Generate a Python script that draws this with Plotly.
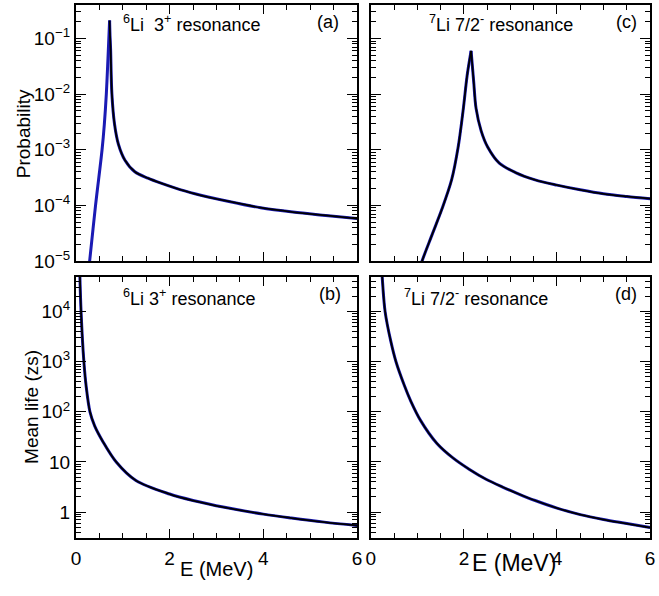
import plotly.graph_objects as go

W, H = 659, 596

# ---------------- data ----------------
# (a) 6Li 3+ resonance : probability vs E (MeV)
E_a = [0.26, 0.293, 0.419, 0.558, 0.607, 0.649, 0.677, 0.700, 0.719, 0.728, 0.740, 0.768,
       0.824, 0.907, 1.047, 1.257, 1.536, 1.815, 2.094, 2.54, 3.24, 3.94, 4.63, 5.33, 6.0]
P_a = [6.0e-6, 1.0e-5, 1.0e-4, 1.0e-3, 2.9e-3, 1.0e-2, 3.2e-2, 8.9e-2, 2.1e-1, 1.12e-1, 6.5e-2, 1.0e-2,
       2.9e-3, 1.26e-3, 6.5e-4, 4.03e-4, 3.09e-4, 2.51e-4, 2.09e-4, 1.62e-4, 1.19e-4, 9.1e-5, 7.6e-5, 6.6e-5, 5.8e-5]

# (c) 7Li 7/2- resonance : probability vs E (MeV)
E_c = [1.05, 1.10, 1.31, 1.525, 1.736, 1.876, 1.98, 2.07, 2.154, 2.21, 2.26, 2.37, 2.51,
       2.76, 3.11, 3.53, 4.0, 4.5, 5.0, 5.5, 6.0]
P_c = [7.1e-6, 1.0e-5, 2.9e-5, 8.5e-5, 2.9e-4, 1.12e-3, 4.9e-3, 2.19e-2, 6.0e-2, 1.66e-2, 5.6e-3, 2.19e-3, 1.12e-3,
       5.75e-4, 3.89e-4, 2.88e-4, 2.32e-4, 1.91e-4, 1.62e-4, 1.45e-4, 1.32e-4]

# (b) 6Li 3+ resonance : mean life (zs) vs E (MeV)
E_b = [0.07, 0.085, 0.11, 0.17, 0.22, 0.30, 0.40, 0.58, 0.86, 1.28, 2.0, 2.5, 3.2, 4.0, 4.6, 5.3, 6.0]
T_b = [2.0e5, 5.0e4, 1.0e4, 1.0e3, 316.0, 100.0, 52.5, 25.1, 10.0, 4.27, 2.29, 1.70, 1.23, 0.91, 0.76, 0.63, 0.54]

# (d) 7Li 7/2- resonance : mean life (zs) vs E (MeV)
E_d = [0.22, 0.243, 0.306, 0.433, 0.54, 0.714, 0.855, 1.067, 1.42, 1.77, 2.12, 2.475, 2.83,
       3.18, 3.53, 4.0, 4.5, 5.0, 5.5, 6.0]
T_d = [1.1e5, 5.0e4, 1.0e4, 2.45e3, 1.0e3, 347.0, 166.0, 67.6, 23.4, 11.9, 7.08, 4.51, 3.16,
       2.29, 1.70, 1.20, 0.89, 0.71, 0.59, 0.49]

x_tickvals = [0, 2, 4, 6]
x_ticktext = ["0", "2", "4", "6"]
p_tickvals = [1e-5, 1e-4, 1e-3, 1e-2, 1e-1]
p_ticktext = ["10<sup>\u22125</sup>", "10<sup>\u22124</sup>", "10<sup>\u22123</sup>",
              "10<sup>\u22122</sup>", "10<sup>\u22121</sup>"]
t_tickvals = [1, 10, 100, 1000, 10000]
t_ticktext = ["1", "10", "10<sup>2</sup>", "10<sup>3</sup>", "10<sup>4</sup>"]

labels = {
    "a": "<sup>6</sup>Li\u00a0 3<sup>+</sup> resonance",
    "b": "<sup>6</sup>Li 3<sup>+</sup> resonance",
    "c": "<sup>7</sup>Li 7/2<sup>-</sup> resonance",
    "d": "<sup>7</sup>Li 7/2<sup>-</sup> resonance",
}

# ---------------- figure ----------------
FONT = "Liberation Sans, Arial, Helvetica, sans-serif"
BLUE = "#1a1ab4"
BLACK = "#000000"

fig = go.Figure()


def add_curve(x, y, xa, ya, black_from=0, split=None):
    segs = [(0, len(x))] if split is None else [(0, split + 1), (split, len(x))]
    for (s, e) in segs:
        fig.add_trace(go.Scatter(x=x[s:e], y=y[s:e], mode="lines", xaxis=xa, yaxis=ya,
                                 line=dict(color=BLUE, width=3.0, shape="spline", smoothing=0.9),
                                 showlegend=False, hoverinfo="skip"))
    for (s, e) in segs:
        s2 = max(s, black_from)
        if e - s2 >= 2:
            fig.add_trace(go.Scatter(x=x[s2:e], y=y[s2:e], mode="lines", xaxis=xa, yaxis=ya,
                                     line=dict(color=BLACK, width=1.8, shape="spline", smoothing=0.9),
                                     showlegend=False, hoverinfo="skip"))


pk_a = P_a.index(max(P_a))
pk_c = P_c.index(max(P_c))
add_curve(E_a, P_a, "x", "y", black_from=pk_a, split=pk_a)
add_curve(E_c, P_c, "x2", "y2", split=pk_c)
add_curve(E_b, T_b, "x3", "y3")
add_curve(E_d, T_d, "x4", "y4")


def px(x):
    return x / W


def py(y):
    return 1 - y / H


LX = [px(72), px(357.5)]
RX = [px(371.5), px(655)]
TY = [py(266), py(5)]
BY = [py(548), py(281.7)]

minor_p = [m * 10 ** d for d in range(-5, 0) for m in range(2, 10)]
minor_t = [m * 10 ** d for d in range(-1, 5) for m in range(2, 10)]
minor_x = [0.5, 1, 1.5, 2.5, 3, 3.5, 4.5, 5, 5.5]

common = dict(showline=True, linecolor="black", linewidth=2, mirror="ticks",
              ticks="inside", tickcolor="black", tickwidth=1.2, showgrid=False, zeroline=False,
              tickfont=dict(family=FONT, size=19, color="black"))


def xax(domain, anchor, labels_on):
    return dict(common, domain=domain, anchor=anchor, range=[0, 6], tickmode="array",
                tickvals=x_tickvals, ticktext=x_ticktext, ticklen=9,
                showticklabels=labels_on, ticklabelstandoff=2,
                minor=dict(tickmode="array", tickvals=minor_x, ticks="inside", ticklen=5,
                           tickcolor="black", tickwidth=1.0, showgrid=False))


def yax(domain, anchor, rng, tv, tt, mv, labels_on):
    return dict(common, domain=domain, anchor=anchor, type="log", range=rng, tickmode="array",
                tickvals=tv, ticktext=tt, ticklen=10, showticklabels=labels_on,
                minor=dict(tickmode="array", tickvals=mv, ticks="inside", ticklen=5,
                           tickcolor="black", tickwidth=1.0, showgrid=False))


P_RANGE = [-5, -0.397]
T_RANGE = [-0.515, 4.70]

fig.update_layout(
    width=W, height=H, autosize=False,
    margin=dict(l=0, r=0, t=0, b=0),
    paper_bgcolor="white", plot_bgcolor="white",
    showlegend=False,
    font=dict(family=FONT, color="black", size=18),
    xaxis=xax(LX, "y", False),
    yaxis=yax(TY, "x", P_RANGE, p_tickvals, p_ticktext, minor_p, True),
    xaxis2=xax(RX, "y2", False),
    yaxis2=yax(TY, "x2", P_RANGE, p_tickvals, p_ticktext, minor_p, False),
    xaxis3=xax(LX, "y3", True),
    yaxis3=yax(BY, "x3", T_RANGE, t_tickvals, t_ticktext, minor_t, True),
    xaxis4=xax(RX, "y4", True),
    yaxis4=yax(BY, "x4", T_RANGE, t_tickvals, t_ticktext, minor_t, False),
)

ann = []


def text(x, y, s, size=18, xanchor="left", angle=0):
    ann.append(dict(x=px(x), y=py(y), xref="paper", yref="paper", text=s, showarrow=False,
                    xanchor=xanchor, yanchor="middle", textangle=angle,
                    font=dict(family=FONT, size=size, color="black")))


text(118, 24, labels["a"])
text(118, 303, labels["b"])
text(428, 24, labels["c"])
text(403, 303, labels["d"])
text(341, 22, "(a)", xanchor="right")
text(343, 300, "(b)", xanchor="right")
text(644, 22, "(c)", xanchor="right")
text(644, 300, "(d)", xanchor="right")
text(19, 136, "Probability", size=19, xanchor="center", angle=-90)
text(27, 415, "Mean life (zs)", size=19, xanchor="center", angle=-90)
text(215, 580, "E (MeV)", size=20, xanchor="center")
text(517, 574, "E (MeV)", size=23, xanchor="center")

fig.update_layout(annotations=ann)

post = ("document.documentElement.style.margin='0';document.documentElement.style.overflow='hidden';"
        "document.body.style.margin='0';document.body.style.padding='0';document.body.style.overflow='hidden';"
        "var gd=document.getElementById('{plot_id}');gd.style.position='fixed';gd.style.left='0px';gd.style.top='0px';")

fig.write_html("out.html", config={"displayModeBar": False}, post_script=post)
